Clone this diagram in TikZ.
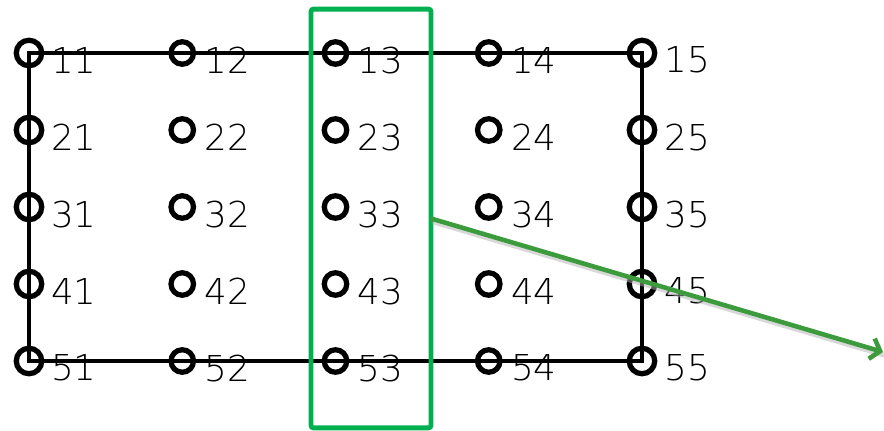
\documentclass[tikz,border=0pt]{standalone}
\usepackage{fontspec}
\newfontfamily\gridfont{DejaVu Sans ExtraLight}
\usetikzlibrary{arrows.meta,positioning}
\definecolor{framegreen}{RGB}{0,176,80}
\definecolor{arrowgreen}{RGB}{60,155,60}

\begin{document}
\begin{tikzpicture}[x=0.02cm,y=-0.02cm,
    pin/.style={circle,draw,line width=3pt,inner sep=0pt,outer sep=0pt,minimum size=12.8pt},
    lbl/.style={inner sep=0pt,font=\gridfont\fontsize{20.3pt}{24pt}\selectfont},
    frame/.style={draw=framegreen,line width=2.8pt,inner sep=0pt,outer sep=0pt,
        minimum width=68.3pt,minimum height=238.4pt,rounded corners=1.5pt},
    flow/.style={draw=arrowgreen,line width=2.6pt,-{Straight Barb[length=5pt,width=12pt]}}]
    \useasboundingbox (0,0) rectangle (884,431);

    % Grid of points
    \foreach \r in {1,...,5} {
        \foreach \c/\sz in {1/14.5pt,2/12.8pt,3/12.8pt,4/12.8pt,5/14.5pt} {
            \node[pin,minimum size=\sz] (n\r\c) at ({29+(\c-1)*153.25},{53+(\r-1)*77}) {};
            \node[lbl,right=12.5pt of n\r\c.center,yshift=-4pt] (t\r\c) {\r\c};
        }
    }

    % Outline
    \draw[line width=2.3pt] (n11.center) rectangle (n55.center);

    % Selected column
    \node[frame] (col3) at (371,218.5) {};

    % Arrow
    \coordinate (tip) at (883,352);
    \draw[gray!60,line width=2.6pt,opacity=.5,transform canvas={shift={(1pt,-2pt)}}] (col3.east) -- (tip);
    \draw[flow] (col3.east) -- (tip);
\end{tikzpicture}
\end{document}
